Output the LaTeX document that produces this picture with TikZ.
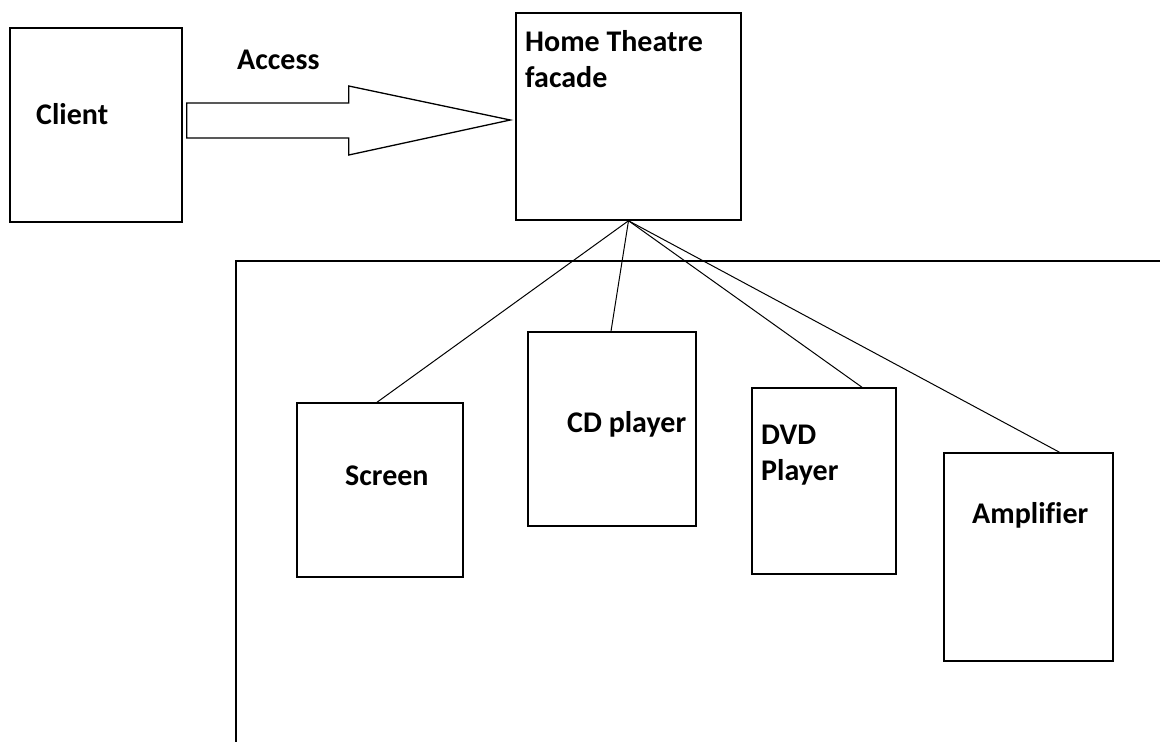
\documentclass[tikz,border=0pt]{standalone}
\usepackage{fontspec}
\setmainfont[Ligatures=CommonOff]{Carlito}
\usetikzlibrary{calc}

\begin{document}
\begin{tikzpicture}
    [x=1pt, y=-1pt,
    box/.style={draw, line width=1.5pt, inner sep=0pt},
    lbl/.style={inner sep=0pt, font=\fontsize{30}{36}\selectfont\bfseries, align=left},
    link/.style={line width=1pt},
    hollow/.style={draw, line width=1.3pt, line join=miter}]
        \useasboundingbox[fill=white] (0,0) rectangle (1160,742);

        % boxes
        \node[box, minimum width=172pt, minimum height=194pt] (client) at (96,125) {};
        \node[box, minimum width=225pt, minimum height=207pt] (home) at (628.5,116.5) {};
        \node[box, minimum width=166pt, minimum height=174pt] (screen) at (380,490) {};
        \node[box, minimum width=168pt, minimum height=194pt] (cd) at (612,429) {};
        \node[box, minimum width=144pt, minimum height=186pt] (dvd) at (824,481) {};
        \node[box, minimum width=169pt, minimum height=208pt] (amp) at (1028.5,557) {};

        % subsystem frame
        \draw[line width=1.3pt] (236,744) -- (236,261) -- (1162,261);

        % labels
        \node[lbl, anchor=base west] (client text) at (36,124) {Client};
        \node[lbl, anchor=base west] (access text) at (237,69) {Access};
        \node[lbl, anchor=north west] (home text) at (525,30) {Home Theatre\\facade};
        \node[lbl, anchor=base west] (screen text) at (345,485) {Screen};
        \node[lbl, anchor=base west] (cd text) at (567,432) {CD player};
        \node[lbl, anchor=north west] (dvd text) at (761,425) {DVD\\Player};
        \node[lbl, anchor=base west] (amp text) at (972,523) {Amplifier};

        % access arrow
        \coordinate (tail) at ([xshift=4pt,yshift=5pt]client.east);
        \coordinate (tip) at ($(home.west |- tail)+(-5,0)$);
        \draw[hollow] ($(tail)+(0,-17)$) -- ($(tail)+(162,-17)$) -- ($(tail)+(162,-34)$)
            -- (tip) -- ($(tail)+(162,35)$) -- ($(tail)+(162,18)$) -- ($(tail)+(0,18)$) -- cycle;

        % facade links
        \foreach \dev/\dx in {screen/-3, cd/-1, dvd/38, amp/31}
            \draw[link] (home.south) -- ([xshift=\dx pt]\dev.north);
\end{tikzpicture}
\end{document}
